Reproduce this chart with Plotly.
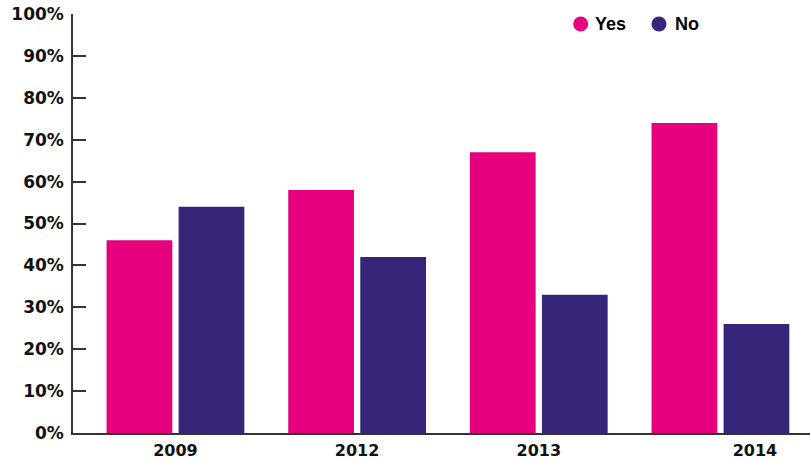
import plotly.graph_objects as go

years = ["2009", "2012", "2013", "2014"]
yes_vals = [46, 58, 67, 74]
no_vals = [54, 42, 33, 26]
series_names = ["Yes", "No"]
colors = ["#E6007E", "#37257A"]
# label position shifts (category units) as they appear in the original
label_shift = [0.0, 0.0, 0.0, 0.19]
y_ticks = list(range(0, 101, 10))
y_tick_text = [f"{v}%" for v in y_ticks]

x_idx = list(range(len(years)))

fig = go.Figure()
for name, vals, col in zip(series_names, [yes_vals, no_vals], colors):
    fig.add_trace(go.Bar(x=x_idx, y=vals, name=name, marker_color=col,
                         marker_line_width=0, showlegend=False))

W, H = 810, 460
ml, mr, mt, mb = 73, 0, 14, 27
pw, ph = W - ml - mr, H - mt - mb

def px_x(x):
    return (x - ml) / pw

def px_y(y):
    return 1 - (y - mt) / ph

legend_x_circle = [580.7, 659]
legend_x_text = [593, 673]
legend_y = 24
shapes = []
annotations = []
for i, (name, col) in enumerate(zip(series_names, colors)):
    shapes.append(dict(type="circle", xref="paper", yref="paper",
                       xsizemode="pixel", ysizemode="pixel",
                       xanchor=px_x(legend_x_circle[i]), yanchor=px_y(legend_y),
                       x0=-7.5, x1=7.5, y0=-7.5, y1=7.5,
                       fillcolor=col, line_width=0))
    annotations.append(dict(text=name, xref="paper", yref="paper",
                            x=px_x(legend_x_text[i]), y=px_y(legend_y),
                            xanchor="left", yanchor="middle", showarrow=False,
                            font=dict(family="Liberation Sans", size=18,
                                      color="#000", weight="bold")))

fig.update_layout(
    width=W, height=H,
    margin=dict(l=ml, r=mr, t=mt, b=mb, pad=0, autoexpand=False),
    paper_bgcolor="white", plot_bgcolor="white",
    barmode="group", bargap=0.207, bargroupgap=0.0875,
    shapes=shapes, annotations=annotations,
    xaxis=dict(range=[-0.564, 3.493], automargin=False,
               tickvals=[i + s for i, s in zip(x_idx, label_shift)],
               ticktext=years, showgrid=False, zeroline=False,
               showline=True, linecolor="#333", linewidth=1.5, ticks="",
               tickfont=dict(family="DejaVu Sans", size=16, color="#111",
                             weight="bold"),
               ticklabelstandoff=2),
    yaxis=dict(range=[0, 100], automargin=False, tickvals=y_ticks,
               ticktext=y_tick_text,
               showgrid=False, zeroline=False, showline=True,
               linecolor="#333", linewidth=1.5, ticks="inside", ticklen=13,
               tickcolor="#333", tickwidth=1.5,
               tickfont=dict(family="DejaVu Sans", size=17, color="#111",
                             weight="bold"),
               ticklabelstandoff=4),
)

fig.write_html("out.html")
